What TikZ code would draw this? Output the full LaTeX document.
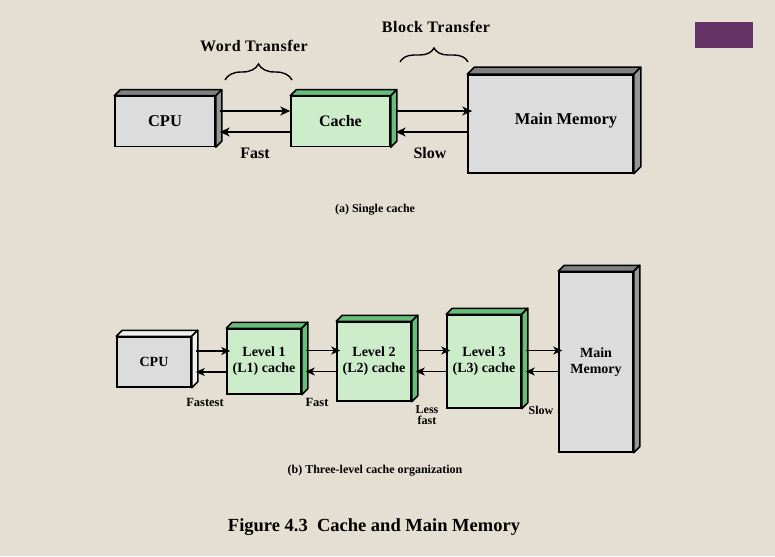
\documentclass[tikz,border=0pt]{standalone}
\usepackage{fontspec}
\setmainfont{Liberation Serif}
\usetikzlibrary{arrows.meta,decorations.pathreplacing}
\definecolor{bg}{RGB}{229,222,211}
\definecolor{gfront}{RGB}{220,220,220}
\definecolor{gtop}{RGB}{128,128,128}
\definecolor{gside}{RGB}{150,150,150}
\definecolor{cfront}{RGB}{204,236,202}
\definecolor{ctop}{RGB}{102,190,120}
\definecolor{wtop}{RGB}{240,240,240}
\definecolor{purp}{RGB}{102,51,102}
\newcommand{\cubefaces}[4]{%
  \filldraw[fill=#3, facedraw] (#1.north west) -- ([shift={(#2pt,#2pt)}]#1.north west) -- ([shift={(#2pt,#2pt)}]#1.north east) -- (#1.north east) -- cycle;
  \filldraw[fill=#4, facedraw] (#1.north east) -- ([shift={(#2pt,#2pt)}]#1.north east) -- ([shift={(#2pt,#2pt)}]#1.south east) -- (#1.south east) -- cycle;}
\begin{document}
\begin{tikzpicture}[x=1pt,y=-1pt,
  box/.style={draw=black, line width=1.5pt, inner sep=0pt, align=center},
  grayface/.style={box, fill=gfront},
  greenface/.style={box, fill=cfront},
  facedraw/.style={draw=black, line width=1.5pt, line join=round},
  arr/.style={-{Stealth[length=10pt,width=9pt,inset=3pt]}, line width=1.4pt},
  arrb/.style={-{Stealth[length=9pt,width=8pt,inset=2.5pt]}, line width=1.3pt},
  txt/.style={inner sep=0pt, align=center, font=\bfseries\fontsize{#1}{#1}\selectfont},
  lbl/.style={inner sep=0pt, align=center, font=\bfseries\fontsize{#1}{#1}\selectfont},
  brc/.style={decorate, decoration={brace, amplitude=#1}, line width=1.4pt}]
\fill[bg] (0,0) rectangle (775,556);
\useasboundingbox (0,0) rectangle (775,556);
\fill[purp] (695,22) rectangle (753,48);

% (a) single cache
\node[grayface, minimum width=100pt, minimum height=50pt, font=\bfseries\fontsize{16.5}{16.5}\selectfont] (cpu) at (165,121.5) {CPU};
\cubefaces{cpu}{6}{gtop}{gside}
\node[greenface, minimum width=99pt, minimum height=50pt, font=\bfseries\fontsize{16}{16}\selectfont] (cache) at (340.5,121.5) {Cache};
\cubefaces{cache}{6}{ctop}{ctop}
\node[grayface, minimum width=165pt, minimum height=98pt] (mm) at (550.5,124) {};
\cubefaces{mm}{7}{gtop}{gside}
\node[txt=16.5] (mmlabel) at (566,121) {Main Memory};

\draw[arr] ([shift={(4pt,10.5pt)}]cpu.east) -- ([yshift=10.5pt]cache.west);
\draw[arr] ([yshift=-10.5pt]cache.west) -- ([shift={(4pt,-10.5pt)}]cpu.east);
\draw[arr] ([shift={(5pt,10.5pt)}]cache.east) -- ([shift={(5pt,10.5pt)}]cache.east -| mm.west);
\draw[arr] ([yshift=-10.5pt]cache.east -| mm.west) -- ([shift={(5pt,-10.5pt)}]cache.east);

\node[lbl=16] (fast) at (255,153) {Fast};
\node[lbl=16] (slow) at (430,153) {Slow};
\node[lbl=16] (word) at (254,46) {\addfontfeatures{LetterSpace=3}Word Transfer};
\node[lbl=16] (block) at (436,27) {\addfontfeatures{LetterSpace=3}Block Transfer};
\draw[brc=16pt] (225,80) -- (292,80);
\draw[brc=14pt] (400,62) -- (468,62);
\node[lbl=12] (capa) at (375,210) {(a) Single cache};

% (b) three-level
\node[grayface, minimum width=74pt, minimum height=50pt, font=\bfseries\fontsize{14}{14}\selectfont] (cpub) at (154,362) {CPU};
\cubefaces{cpub}{6}{wtop}{wtop}
\node[greenface, minimum width=74pt, minimum height=65pt, font=\bfseries\fontsize{14}{16}\selectfont] (l1) at (264,361.5) {Level 1\\(L1) cache};
\cubefaces{l1}{6}{ctop}{ctop}
\node[greenface, minimum width=74pt, minimum height=79pt, font=\bfseries\fontsize{14}{16}\selectfont] (l2) at (374,361.5) {Level 2\\(L2) cache};
\cubefaces{l2}{6}{ctop}{ctop}
\node[greenface, minimum width=74pt, minimum height=93pt, font=\bfseries\fontsize{14}{16}\selectfont] (l3) at (484,361.5) {Level 3\\(L3) cache};
\cubefaces{l3}{6}{ctop}{ctop}
\node[grayface, minimum width=74pt, minimum height=180pt, font=\bfseries\fontsize{14}{16}\selectfont] (mmb) at (596,362) {Main\\Memory};
\cubefaces{mmb}{6}{gtop}{gside}

\foreach \a/\b in {cpub/l1, l1/l2, l2/l3, l3/mmb}{
  \draw[arrb] ([shift={(4pt,11pt)}]\a.east) -- ([shift={(4pt,11pt)}]\a.east -| \b.west);
  \draw[arrb] ([yshift=-10pt]\a.east -| \b.west) -- ([shift={(4pt,-10pt)}]\a.east);
}

\node[lbl=12.5] (fastest) at (205,402) {Fastest};
\node[lbl=12.5] (fastb) at (317,402) {Fast};
\node[lbl=11, font=\bfseries\fontsize{12}{11}\selectfont] (lessfast) at (427,415.5) {Less\\fast};
\node[lbl=12] (slowb) at (541,410) {Slow};
\node[lbl=12] (capb) at (375,471) {(b) Three-level cache organization};
\node[lbl=18.5] (title) at (374,527) {Figure 4.3\ \ Cache and Main Memory};
\end{tikzpicture}
\end{document}
